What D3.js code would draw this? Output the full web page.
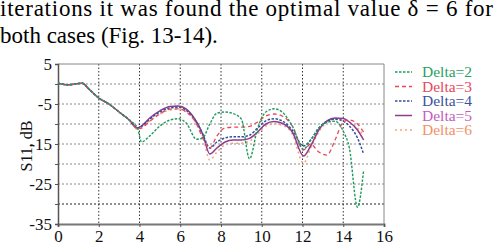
<!DOCTYPE html>
<html>
<head>
<meta charset="utf-8">
<script src="https://cdn.jsdelivr.net/npm/d3@7"></script>
<style>
  body { margin: 0; background: #fff; }
</style>
</head>
<body>
<div id="chart"></div>
<script>
// data (frequency, S11 in dB)
const freq = [0, 0.5, 1.2, 1.5, 2, 2.5, 3, 3.5, 3.9, 4.1, 4.5, 5, 5.5, 5.9, 6.3, 6.8, 7.1, 7.45, 7.8, 8.2, 8.6, 9, 9.4, 9.8, 10.2, 10.6, 11, 11.5, 12.05, 12.4, 12.8, 13.2, 13.6, 14, 14.3, 14.7, 15];
const start = [0.2, -0.2, 0.2, -1.2, -3.5, -5, -7, -9];
const delta2 = [...start, -11, -14.5, -13, -10.5, -9, -8.7, -9.8, -13.8, -13.5, -10, -7.3, -7, -7.4, -8.8, -18.7, -11, -7, -6.2, -7, -10.5, -16.3, -14, -11, -9.6, -9.3, -11.8, -16, -30.8, -21.5];
const delta3 = [...start, -11.2, -11, -9.3, -7.5, -6.3, -6.2, -7, -10, -13.5, -16, -13, -11, -10.8, -10.8, -10.6, -9.5, -8, -7.5, -8, -10.5, -16.5, -15, -17, -17.8, -14, -9.5, -9, -10, -12];
const delta4 = [...start, -11, -10.6, -8.8, -7, -6, -5.8, -6.6, -9.5, -12.5, -16, -14.5, -13.5, -13.2, -13.2, -12.8, -11, -9.2, -8.7, -9.2, -11.5, -15.5, -14, -11, -9.3, -8.8, -9.3, -10.5, -13.5, -17.5];
const delta5 = [...start, -11, -10.5, -8.5, -6.7, -5.6, -5.5, -6.3, -9.5, -12.5, -17.5, -16, -14.5, -14, -14, -13.6, -12, -10, -9.4, -9.8, -12, -18, -15.5, -11.5, -9.2, -8.5, -8.6, -9.5, -11.5, -14];
const delta6 = [...start, -11.3, -11, -9.2, -7.5, -6.5, -6.3, -7, -10, -13, -19, -17, -15.2, -14.8, -14.8, -14.3, -12.5, -10.5, -10, -10.3, -12.5, -19.8, -16, -12, -9.5, -8.7, -8.8, -9.5, -11, -12.8];
const seriesNames = ["Delta=2", "Delta=3", "Delta=4", "Delta=5", "Delta=6"];
const xTicks = [0, 2, 4, 6, 8, 10, 12, 14, 16];
const yTicks = [5, -5, -15, -25, -35];
const yGrid = [0, -5, -10, -15, -20, -25, -30];

const FONT = "'Liberation Serif'";
const width = 494, height = 245;
const margin = { top: 64, right: 110, bottom: 21, left: 58 };
const innerWidth = width - margin.left - margin.right;
const innerHeight = height - margin.top - margin.bottom;

const svg = d3.select("#chart").append("svg")
  .attr("width", width)
  .attr("height", height)
  .style("display", "block");

// paragraph text above the figure
svg.append("text")
  .attr("x", 0).attr("y", 16)
  .style("font-family", FONT)
  .style("font-size", "23px")
  .attr("textLength", 493)
  .attr("lengthAdjust", "spacing")
  .text("iterations it was  found the optimal value \u03B4 = 6 for");
svg.append("text")
  .attr("x", 0).attr("y", 43)
  .style("font-family", FONT)
  .style("font-size", "23px")
  .text("both cases (Fig. 13-14).");

const chart = svg.append("g")
  .attr("transform", `translate(${margin.left},${margin.top})`);

const x = d3.scaleLinear().domain([0, 16]).range([0, innerWidth]);
const y = d3.scaleLinear().domain([-35, 5]).range([innerHeight, 0]);

// grid
chart.selectAll(".hgrid")
  .data(yGrid)
  .join("line")
  .attr("x1", 0).attr("x2", innerWidth)
  .attr("y1", d => y(d)).attr("y2", d => y(d))
  .attr("stroke", d => d === -30 ? "#222" : "#8a8a8a")
  .attr("stroke-width", 1)
  .attr("stroke-dasharray", "2,2");

chart.selectAll(".vgrid")
  .data(xTicks.slice(1, -1))
  .join("line")
  .attr("x1", d => x(d)).attr("x2", d => x(d))
  .attr("y1", 0).attr("y2", innerHeight)
  .attr("stroke", "#333")
  .attr("stroke-width", 1)
  .attr("stroke-dasharray", "1.5,2");

// frame (top and right)
chart.append("path")
  .attr("d", `M0,0H${innerWidth}V${innerHeight}`)
  .attr("fill", "none")
  .attr("stroke", "#888")
  .attr("stroke-width", 1);

// axes
const xAxis = chart.append("g")
  .attr("transform", `translate(0,${innerHeight})`)
  .call(d3.axisBottom(x).tickValues(xTicks).tickSize(3).tickPadding(4));
xAxis.select(".domain").attr("stroke", "#777").attr("stroke-width", 2);

const yAxis = chart.append("g")
  .call(d3.axisLeft(y).tickValues(d3.range(-35, 6, 5)).tickSize(3).tickPadding(3)
    .tickFormat(d => yTicks.includes(d) ? d : ""));
yAxis.select(".domain").attr("stroke", "#555").attr("stroke-width", 1.5);

[xAxis, yAxis].forEach(a => {
  a.selectAll(".tick line").attr("stroke", "#555");
  a.selectAll(".tick text")
    .style("font-family", FONT)
    .style("font-size", "17px")
    .attr("fill", "#111");
});
yAxis.selectAll(".tick text").attr("dy", "0.35em");
xAxis.selectAll(".tick text").attr("dy", "0.66em");

// y-axis label
chart.append("text")
  .attr("transform", `translate(${-margin.left + 32},${y(-15.5)}) rotate(-90)`)
  .attr("text-anchor", "middle")
  .style("font-family", FONT)
  .style("font-size", "16px")
  .attr("fill", "#111")
  .text("S11, dB");

// lines
const series = [
  { name: seriesNames[0], values: delta2, color: "#1f9a5c", text: "#2a9f62", dash: "2.5,1.5", w: 1.4 },
  { name: seriesNames[1], values: delta3, color: "#e8485a", text: "#e8485a", dash: "4,3", w: 1.3 },
  { name: seriesNames[2], values: delta4, color: "#34509c", text: "#3a52a0", dash: "2.5,1.5", w: 1.5 },
  { name: seriesNames[3], values: delta5, color: "#8e3c8c", text: "#c45cc0", dash: null, w: 1.5 },
  { name: seriesNames[4], values: delta6, color: "#f4a27a", text: "#f29068", dash: "2,3", w: 1.5 }
];

const line = d3.line()
  .x((d, i) => x(freq[i]))
  .y(d => y(d))
  .curve(d3.curveMonotoneX);

// draw back to front so the solid purple sits over the others
[4, 3, 2, 1, 0].forEach(k => {
  const s = series[k];
  chart.append("path")
    .attr("d", line(s.values))
    .attr("fill", "none")
    .attr("stroke", s.color)
    .attr("stroke-width", s.w)
    .attr("stroke-dasharray", s.dash);
});

// legend
const legend = svg.append("g")
  .attr("transform", `translate(${margin.left + innerWidth + 11},${72})`);

series.forEach((s, i) => {
  const row = legend.append("g").attr("transform", `translate(0,${i * 14.5})`);
  row.append("line")
    .attr("x1", 0).attr("x2", 17)
    .attr("stroke", s.color)
    .attr("stroke-width", s.w)
    .attr("stroke-dasharray", s.dash);
  row.append("text")
    .attr("x", 27)
    .attr("y", 5)
    .style("font-family", FONT)
    .style("font-size", "15.5px")
    .attr("fill", s.text)
    .text(s.name);
});
</script>
</body>
</html>
